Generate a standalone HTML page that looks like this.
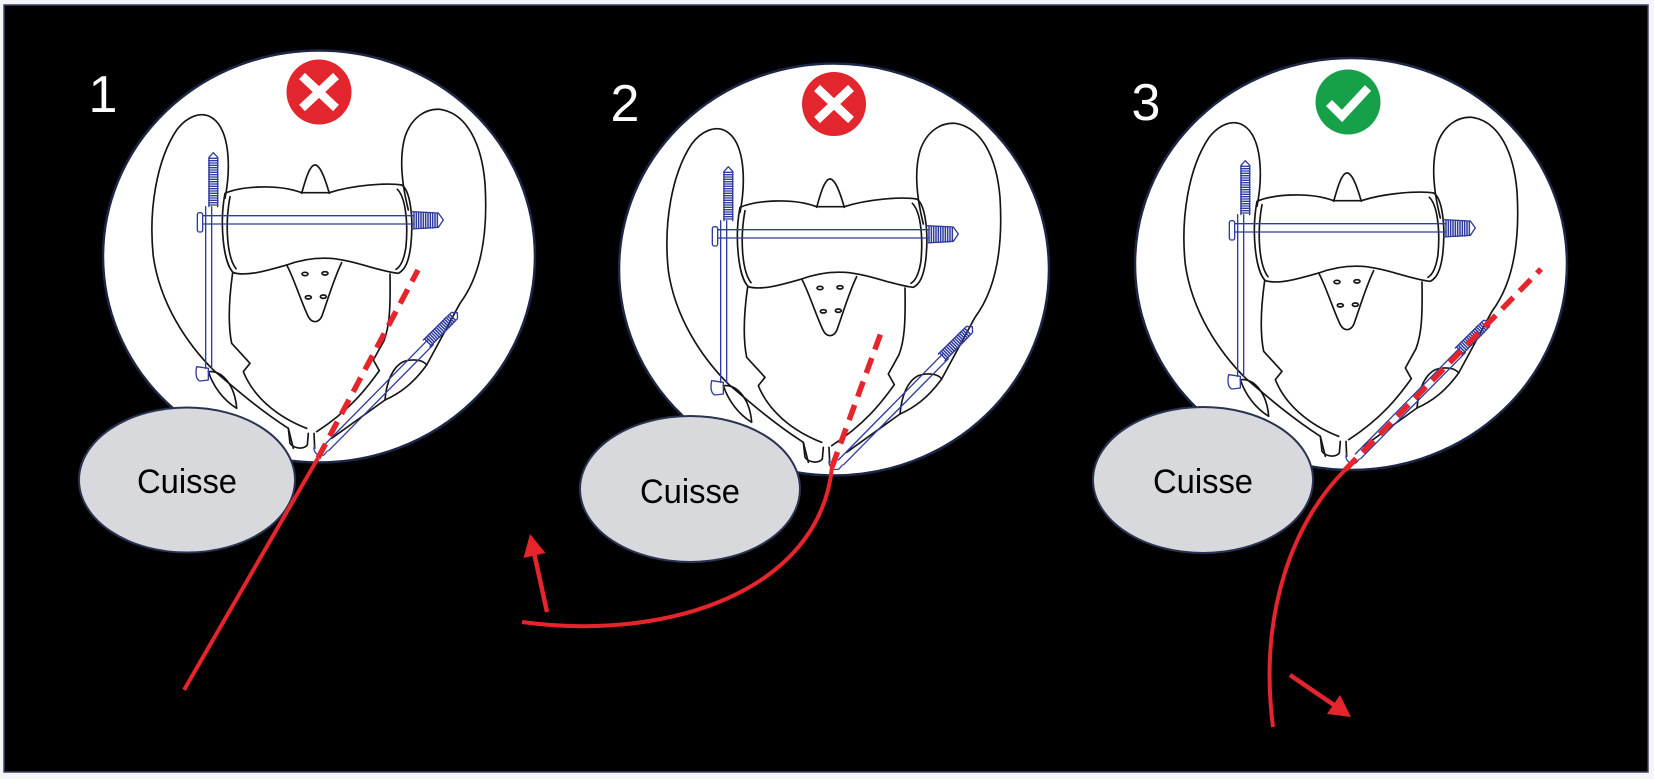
<!DOCTYPE html>
<html>
<head>
<meta charset="utf-8">
<style>
  html,body{margin:0;padding:0;background:#f3f5f9;}
  svg{display:block;}
</style>
</head>
<body>
<svg width="1654" height="779" viewBox="0 0 1654 779" xmlns="http://www.w3.org/2000/svg">
  <defs>
    <g id="pelvis" fill="none" stroke="#151515" stroke-width="5" stroke-linejoin="round" stroke-linecap="round">
      <!-- left wing -->
      <path d="M 700,1195 L 685,1135 C 600,1080 530,1020 460,960 C 380,880 300,760 280,620 C 265,480 290,330 350,240 C 380,200 420,185 450,200 C 490,220 505,280 505,350 C 505,390 500,420 495,445"/>
      <!-- left obturator lens -->
      <path d="M 445,965 C 490,960 525,1010 530,1075 C 490,1050 460,1010 445,965 Z"/>
      <!-- right wing -->
      <path d="M 1045,480 C 1030,420 1015,330 1035,260 C 1055,200 1100,175 1140,178 C 1220,190 1265,280 1275,400 C 1285,560 1260,680 1200,760 L 1100,945 C 1060,1000 1020,1030 975,1050 L 815,1165"/>
      <path d="M 975,1050 C 980,990 1000,950 1030,935 C 1060,925 1090,930 1100,945"/>
      <!-- sacrum body -->
      <path d="M 495,430 C 540,410 650,400 725,428 L 808,428 C 880,405 980,398 1025,405 C 1050,420 1062,500 1052,590 C 1046,635 1035,660 1015,670 C 960,665 880,630 810,625 C 760,622 715,632 680,645 C 620,662 560,680 520,668 C 490,640 478,520 495,430 Z"/>
      <path d="M 510,440 C 495,520 500,620 528,656"/>
      <path d="M 1012,418 C 1035,440 1045,510 1038,590 C 1032,630 1022,650 1008,658"/>
      <!-- spike -->
      <path d="M 725,430 C 735,395 748,345 765,345 C 782,345 798,395 808,430"/>
      <!-- lower sacrum -->
      <path d="M 680,645 C 700,680 725,760 745,800 C 755,820 775,820 785,800 C 800,760 820,690 845,638"/>
      <ellipse cx="735" cy="672" rx="9" ry="5"/>
      <ellipse cx="795" cy="670" rx="9" ry="5"/>
      <ellipse cx="745" cy="742" rx="9" ry="5"/>
      <ellipse cx="790" cy="740" rx="9" ry="5"/>
      <!-- pelvic ring U -->
      <path d="M 518,668 C 505,760 505,830 515,880 L 570,940 L 550,965 C 580,1040 650,1100 740,1135"/>
      <path d="M 990,672 C 992,780 988,830 972,872 L 940,930 L 958,962 C 920,1015 870,1080 770,1145"/>
      <!-- symphysis -->
      <path d="M 685,1135 L 690,1180 C 700,1195 730,1200 742,1185 L 745,1150"/>
      <path d="M 762,1150 L 764,1195"/>
      <!-- blue hardware -->
      <g stroke="#2f3c9e" stroke-width="4">
        <!-- horizontal screw -->
        <path d="M 428,497 L 1060,497 M 428,522 L 1060,522"/>
        <rect x="412" y="488" width="16" height="58" rx="6"/>
        <path d="M 1055,485 L 1135,489 L 1150,510 L 1135,532 L 1055,537"/>
        <path d="M 1062,487 V 535 M 1069,487 V 535 M 1076,487 V 535 M 1083,487 V 535 M 1090,487 V 535 M 1097,487 V 535 M 1104,488 V 534 M 1111,488 V 534 M 1118,488 V 534 M 1125,489 V 533 M 1132,490 V 531" stroke-width="4.5"/>
        <!-- vertical screw -->
        <path d="M 437,470 L 437,955 M 455,470 L 455,955"/>
        <path d="M 447,470 L 447,322 L 460,308 L 473,322 L 473,470"/>
        <path d="M 446,325 H 474 M 446,332 H 474 M 446,339 H 474 M 446,346 H 474 M 446,353 H 474 M 446,360 H 474 M 446,367 H 474 M 446,374 H 474 M 446,381 H 474 M 446,388 H 474 M 446,395 H 474 M 446,402 H 474 M 446,409 H 474 M 446,416 H 474 M 446,423 H 474 M 446,430 H 474 M 446,437 H 474 M 446,444 H 474 M 446,451 H 474 M 446,458 H 474 M 446,465 H 474" stroke-width="4"/>
        <path d="M 410,950 L 445,955 L 445,990 L 420,993 C 410,990 405,975 410,950 Z"/>
        <!-- oblique screw -->
        <path d="M 790,1188 L 1105,868 M 806,1202 L 1120,884"/>
        <path d="M 765,1185 C 755,1200 770,1222 792,1215 L 802,1203"/>
        <g transform="translate(1100,880) rotate(-45)">
          <path d="M 0,-14 L 118,-13 L 130,0 L 118,13 L 0,14"/>
          <path d="M 5,-14 V 14 M 12,-14 V 14 M 19,-14 V 14 M 26,-14 V 14 M 33,-14 V 14 M 40,-14 V 14 M 47,-14 V 14 M 54,-14 V 14 M 61,-14 V 14 M 68,-14 V 14 M 75,-14 V 14 M 82,-14 V 14 M 89,-14 V 14 M 96,-14 V 14 M 103,-13 V 13 M 110,-13 V 13" stroke-width="4.5"/>
        </g>
      </g>
    </g>
  </defs>

  <!-- frame -->
  <rect x="0" y="0" width="1654" height="779" fill="#f3f5f9"/>
  <rect x="4" y="5" width="1644" height="767" fill="#000" stroke="#3c4563" stroke-width="1.5"/>

  <!-- circles -->
  <ellipse cx="319" cy="256.5" rx="216" ry="206" fill="#fff" stroke="#1d2645" stroke-width="2.5"/>
  <ellipse cx="834" cy="269.5" rx="215" ry="206" fill="#fff" stroke="#1d2645" stroke-width="2.5"/>
  <ellipse cx="1351" cy="264" rx="216" ry="206" fill="#fff" stroke="#1d2645" stroke-width="2.5"/>

  <!-- pelvis drawings -->
  <use href="#pelvis" transform="translate(60,50) scale(0.33333)"/>
  <use href="#pelvis" transform="translate(575,64) scale(0.33333)"/>
  <use href="#pelvis" transform="translate(1092,58) scale(0.33333)"/>

  <!-- icons -->
  <circle cx="319" cy="92" r="32.5" fill="#e3262d"/>
  <path d="M 302,76 L 336,108 M 336,76 L 302,108" stroke="#fff" stroke-width="8.5" fill="none"/>
  <circle cx="834" cy="104" r="32" fill="#e3262d"/>
  <path d="M 817,88 L 851,120 M 851,88 L 817,120" stroke="#fff" stroke-width="8.5" fill="none"/>
  <circle cx="1348" cy="102" r="32.5" fill="#17a04a"/>
  <path d="M 1329,103 L 1342,116 L 1368,88" stroke="#fff" stroke-width="8.5" fill="none" stroke-linecap="butt" stroke-linejoin="miter"/>

  <!-- numbers -->
  <g font-family="'Liberation Sans', sans-serif" font-size="52" fill="#fff" text-anchor="middle">
    <text x="103" y="112">1</text>
    <text x="625" y="121">2</text>
    <text x="1146" y="120">3</text>
  </g>

  <!-- cuisse ellipses -->
  <ellipse cx="187" cy="480" rx="108" ry="72.5" fill="#d8d9dc" stroke="#2a3452" stroke-width="2"/>
  <ellipse cx="690" cy="489" rx="110" ry="73" fill="#d8d9dc" stroke="#2a3452" stroke-width="2"/>
  <ellipse cx="1203" cy="480" rx="110" ry="73" fill="#d8d9dc" stroke="#2a3452" stroke-width="2"/>
  <g font-family="'Liberation Sans', sans-serif" font-size="34" fill="#000" text-anchor="middle">
    <text x="187" y="493" textLength="100" lengthAdjust="spacingAndGlyphs">Cuisse</text>
    <text x="690" y="503" textLength="100" lengthAdjust="spacingAndGlyphs">Cuisse</text>
    <text x="1203" y="493" textLength="100" lengthAdjust="spacingAndGlyphs">Cuisse</text>
  </g>

  <!-- red trajectories -->
  <g stroke="#e6242b" fill="none">
    <line x1="318" y1="458" x2="184" y2="690" stroke-width="4"/>
    <line x1="318" y1="458" x2="418" y2="270" stroke-width="5.5" stroke-dasharray="16 9"/>

    <path d="M 832,467 C 820,590 670,642 522,622" stroke-width="4"/>
    <line x1="832" y1="467" x2="882" y2="330" stroke-width="5.5" stroke-dasharray="16 9"/>
    <line x1="547" y1="612" x2="534.5" y2="555" stroke-width="4.5"/>

    <path d="M 1345,470 C 1295,520 1258,610 1273,727" stroke-width="4"/>
    <line x1="1345" y1="470" x2="1541" y2="269" stroke-width="5.5" stroke-dasharray="16 9"/>
    <line x1="1290" y1="675" x2="1334" y2="705" stroke-width="4.5"/>
  </g>
  <polygon points="530,534 523.5,558 545.5,553" fill="#e6242b"/>
  <polygon points="1351,717 1327,714 1340,695" fill="#e6242b"/>
</svg>
</body>
</html>
